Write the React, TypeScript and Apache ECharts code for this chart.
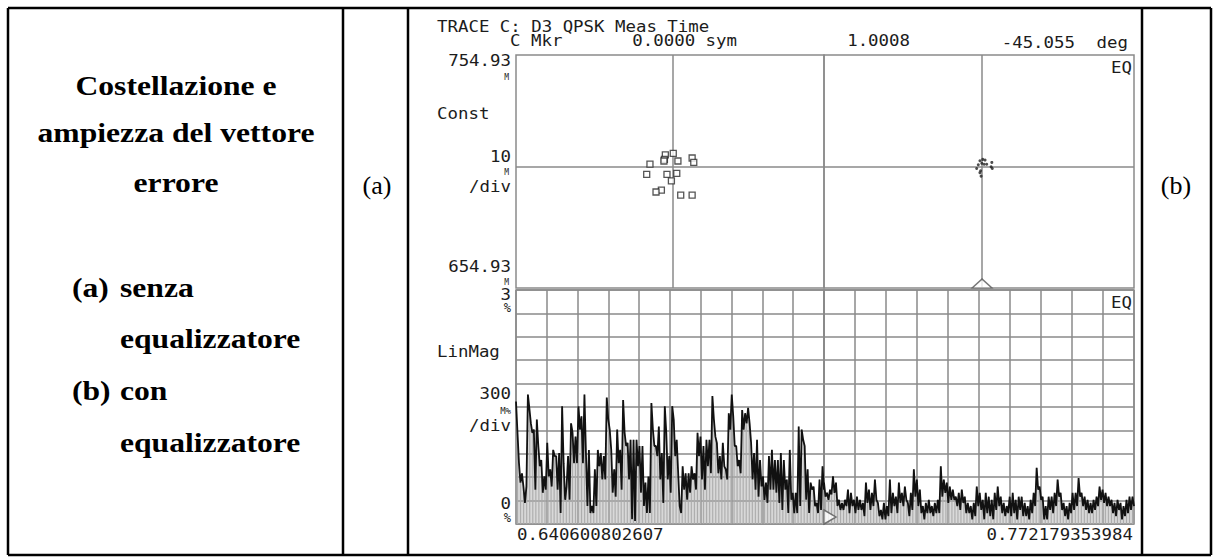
import React, { useEffect, useRef } from 'react';
import * as echarts from 'echarts';

// ---------- texts ----------
const HEADER_TITLE = 'TRACE C: D3 QPSK Meas Time';
const MKR_LABEL = 'C Mkr';
const MKR_X = '0.0000 sym';
const MKR_MAG = '1.0008';
const MKR_PHASE = '-45.055';
const MKR_PHASE_UNIT = 'deg';
const CONST_TOP = '754.93';
const CONST_BOTTOM = '654.93';
const CONST_SCALE = '10';
const EVM_TOP = '3';
const EVM_SCALE = '300';
const EVM_BOTTOM = '0';
const X_START = '0.640600802607';
const X_STOP = '0.772179353984';
const TITLE_LINES = ['Costellazione e', 'ampiezza del vettore', 'errore'];
const ITEM_TAGS = ['(a)', '(b)'];
const ITEM_LINES = [['senza', 'equalizzatore'], ['con', 'equalizzatore']];

// ---------- constellation (offset from ideal point, m units) ----------
const constellationA: [number, number][] = [
  [0.1, 5.9], [-3.3, 5.2], [-3.7, 3.3], [-3.9, 2.6], [-9.9, 1.3], [2.1, 2.6],
  [8.2, 3.9], [8.9, 2.0], [-11.3, -3.1], [-2.6, -3.1], [1.6, -2.7], [-0.7, -5.9],
  [-5.0, -9.9], [-7.3, -10.7], [3.3, -12.0], [8.2, -12.0],
];
const constellationB: [number, number][] = [
  [-0.9, 2.7], [0.3, 3.3], [1.3, 3.0], [-0.1, 1.6], [0.9, 1.2], [-1.6, 1.0],
  [4.2, 2.0], [4.4, -0.6], [3.9, 0.1], [-2.3, -0.6], [-0.6, -1.6], [-0.9, -2.4],
  [-0.4, -3.9], [2.0, 1.2],
];
const markerA: [number, number][] = [[0, -51.9]];

// ---------- error vector magnitude (%) ----------
const evmA = [
  1.57, 1.17, 0.78, 0.53, 0.65, 0.48, 0.27, 0.48, 1.66, 1.48, 1.29, 1.17, 1.21, 0.44, 1.34,
  1.00, 0.74, 0.82, 0.40, 0.61, 0.44, 1.04, 0.61, 0.70, 0.48, 0.95, 0.87, 0.87, 0.44, 0.91,
  0.14, 1.51, 0.78, 0.31, 0.48, 0.87, 0.31, 1.29, 1.17, 0.78, 1.12, 0.78, 1.51, 1.21, 1.38,
  0.78, 1.66, 0.91, 0.23, 0.95, 0.14, 0.23, 0.14, 0.70, 0.23, 0.95, 0.74, 0.91, 0.57, 0.87,
  0.57, 1.62, 1.34, 1.21, 0.95, 0.40, 0.70, 0.35, 1.21, 0.78, 0.95, 0.44, 1.59, 1.17, 1.00,
  1.04, 0.57, 1.08, 0.06, 1.08, 0.04, 1.08, 0.74, 1.00, 0.40, 1.00, 0.23, 0.53, 0.14, 0.61,
  0.14, 1.55, 1.21, 1.00, 1.00, 0.87, 1.25, 0.57, 0.91, 0.27, 1.51, 1.17, 0.57, 0.87, 0.40,
  1.51, 1.34, 0.87, 1.08, 0.65, 0.23, 0.14, 0.74, 0.44, 0.65, 0.31, 0.65, 0.40, 0.74, 0.57,
  0.65, 0.44, 1.17, 0.87, 1.12, 0.57, 1.00, 0.44, 1.08, 0.74, 1.08, 0.65, 1.64, 1.34, 1.12,
  1.04, 0.65, 0.87, 0.57, 1.04, 0.74, 0.70, 0.57, 1.42, 1.21, 1.66, 1.38, 1.00, 1.00, 0.74,
  0.82, 0.65, 1.46, 1.21, 1.42, 1.29, 1.49, 1.29, 1.04, 0.57, 0.91, 0.44, 1.08, 0.35, 0.82,
  0.48, 0.61, 0.31, 0.53, 0.27, 0.87, 0.44, 0.95, 0.44, 0.82, 0.40, 0.82, 0.27, 0.91, 0.18,
  0.82, 0.44, 0.57, 0.14, 0.95, 0.31, 0.40, 0.14, 0.40, 0.14, 1.25, 0.23, 1.21, 1.08, 1.00,
  0.31, 0.70, 0.14, 0.53, 0.44, 0.48, 0.23, 0.27, 0.14, 0.57, 0.18, 0.74, 0.44,
];
const evmB = [
  0.53, 0.35, 0.40, 0.31, 0.44, 0.38, 0.61, 0.40, 0.53, 0.23, 0.31, 0.18, 0.27, 0.18, 0.31,
  0.23, 0.44, 0.14, 0.40, 0.23, 0.31, 0.14, 0.35, 0.18, 0.31, 0.18, 0.27, 0.10, 0.53, 0.27,
  0.44, 0.18, 0.40, 0.23, 0.57, 0.31, 0.27, 0.10, 0.18, 0.06, 0.27, 0.06, 0.23, 0.10, 0.57,
  0.14, 0.40, 0.23, 0.35, 0.14, 0.53, 0.27, 0.40, 0.23, 0.48, 0.31, 0.27, 0.10, 0.40, 0.18,
  0.70, 0.35, 0.57, 0.23, 0.44, 0.14, 0.23, 0.06, 0.27, 0.14, 0.31, 0.14, 0.23, 0.10, 0.27,
  0.14, 0.31, 0.14, 0.74, 0.35, 0.57, 0.40, 0.53, 0.27, 0.48, 0.31, 0.44, 0.31, 0.35, 0.23,
  0.40, 0.18, 0.44, 0.27, 0.35, 0.14, 0.27, 0.14, 0.23, 0.06, 0.27, 0.10, 0.48, 0.23, 0.40,
  0.18, 0.31, 0.06, 0.40, 0.14, 0.35, 0.10, 0.31, 0.06, 0.40, 0.18, 0.48, 0.23, 0.35, 0.14,
  0.27, 0.10, 0.23, 0.14, 0.35, 0.10, 0.40, 0.14, 0.31, 0.06, 0.35, 0.18, 0.35, 0.10, 0.27,
  0.10, 0.23, 0.06, 0.31, 0.14, 0.40, 0.23, 0.72, 0.44, 0.48, 0.31, 0.35, 0.06, 0.23, 0.06,
  0.35, 0.18, 0.35, 0.14, 0.40, 0.23, 0.57, 0.35, 0.40, 0.18, 0.27, 0.10, 0.23, 0.06, 0.27,
  0.14, 0.40, 0.18, 0.40, 0.23, 0.59, 0.35, 0.40, 0.23, 0.35, 0.18, 0.31, 0.14, 0.27, 0.14,
  0.31, 0.18, 0.35, 0.23, 0.48, 0.31, 0.44, 0.27, 0.40, 0.23, 0.35, 0.23, 0.31, 0.14, 0.27,
  0.10, 0.31, 0.18, 0.27, 0.06, 0.23, 0.10, 0.31, 0.14, 0.35, 0.18, 0.35, 0.23,
];
const markerB: [number, number][] = [[0, 0]];

const GRID_COLOR = '#8a8a8a';
const MONO = '"DejaVu Sans Mono"';

function mono(text: string, x: number, y: number, size = 15, align = 'left', scaleX = 1.16) {
  return {
    type: 'text', x, y, scaleX, silent: true, z: 10,
    style: {
      text, font: `${size}px ${MONO}`, fill: '#1c1c1c',
      textAlign: align, align, textVerticalAlign: 'middle', verticalAlign: 'middle',
    },
  };
}
function serif(text: string, x: number, y: number, size: number, bold: boolean, align = 'left', scaleX = 1) {
  return {
    type: 'text', x, y, scaleX, silent: true, z: 10,
    style: {
      text, font: `${bold ? 'bold ' : ''}${size}px "Liberation Serif"`, fill: '#000',
      textAlign: align, align, textVerticalAlign: 'middle', verticalAlign: 'middle',
    },
  };
}
function rule(x1: number, y1: number, x2: number, y2: number) {
  return { type: 'line', silent: true, z: 10, shape: { x1, y1, x2, y2 }, style: { stroke: '#000', lineWidth: 2.5 } };
}

export default function App() {
  const ref = useRef<HTMLDivElement>(null);
  useEffect(() => {
    if (!ref.current) return;
    const chart = echarts.init(ref.current, null, { renderer: 'svg' });
    const gridBase = { show: true, borderColor: GRID_COLOR, borderWidth: 1.5, backgroundColor: 'transparent' };
    const divAxis = (gridIndex: number) => ({
      gridIndex, type: 'value', min: 0, max: 10, interval: 1,
      axisLine: { show: false }, axisTick: { show: false }, axisLabel: { show: false },
      splitLine: { show: true, lineStyle: { color: GRID_COLOR, width: 1.5 } },
    });
    const evmY = (gridIndex: number) => ({
      gridIndex, type: 'value', min: 0, max: 3, interval: 0.3,
      axisLine: { show: false }, axisTick: { show: false }, axisLabel: { show: false },
      splitLine: { show: true, lineStyle: { color: GRID_COLOR, width: 1.5 } },
    });
    const cross = {
      silent: true, symbol: ['none', 'none'], label: { show: false },
      lineStyle: { color: GRID_COLOR, width: 1.5, type: 'solid' },
      data: [{ xAxis: 0 }, { yAxis: 0 }],
    };
    const elements: any[] = [
      // table rules
      rule(8, 8, 1211, 8), rule(8, 555, 1211, 555),
      rule(8, 8, 8, 555), rule(343, 8, 343, 555), rule(408, 8, 408, 555),
      rule(1142, 8, 1142, 555), rule(1211, 8, 1211, 555),
      // left column
      serif(TITLE_LINES[0], 176, 85, 28, true, 'center', 1.13),
      serif(TITLE_LINES[1], 176, 132, 28, true, 'center', 1.13),
      serif(TITLE_LINES[2], 176, 182, 28, true, 'center', 1.13),
      serif(ITEM_TAGS[0], 72, 287, 28, true, 'left', 1.13),
      serif(ITEM_LINES[0][0], 120, 287, 28, true, 'left', 1.13),
      serif(ITEM_LINES[0][1], 120, 338, 28, true, 'left', 1.13),
      serif(ITEM_TAGS[1], 72, 390, 28, true, 'left', 1.13),
      serif(ITEM_LINES[1][0], 120, 390, 28, true, 'left', 1.13),
      serif(ITEM_LINES[1][1], 120, 442, 28, true, 'left', 1.13),
      serif(ITEM_TAGS[0], 377, 185, 26, false, 'center', 1),
      serif(ITEM_TAGS[1], 1176, 185, 26, false, 'center', 1),
      // analyzer annotations
      mono(HEADER_TITLE, 437, 27),
      mono(MKR_LABEL, 510, 41),
      mono(MKR_X, 737, 41, 15, 'right'),
      mono(MKR_MAG, 910, 41, 15, 'right'),
      mono(MKR_PHASE, 1075, 43, 15, 'right'),
      mono(MKR_PHASE_UNIT, 1128, 43, 15, 'right'),
      mono(CONST_TOP, 511, 61, 15, 'right'),
      mono('M', 509, 77, 8, 'right', 1),
      mono('Const', 437, 114),
      mono(CONST_SCALE, 511, 157, 15, 'right'),
      mono('M', 509, 172, 8, 'right', 1),
      mono('/div', 511, 187, 15, 'right'),
      mono(CONST_BOTTOM, 511, 267, 15, 'right'),
      mono('M', 509, 282, 8, 'right', 1),
      mono(EVM_TOP, 511, 295, 15, 'right'),
      mono('%', 511, 308, 12, 'right', 1),
      mono('LinMag', 437, 352),
      mono(EVM_SCALE, 511, 394, 15, 'right'),
      mono('M%', 511, 411, 9, 'right', 1),
      mono('/div', 511, 426, 15, 'right'),
      mono(EVM_BOTTOM, 511, 504, 15, 'right'),
      mono('%', 511, 518, 12, 'right', 1),
      mono(X_START, 517, 535),
      mono(X_STOP, 1133, 535, 15, 'right'),
      mono('EQ', 1132, 68, 15, 'right'),
      mono('EQ', 1132, 303, 15, 'right'),
    ];
    chart.setOption({
      animation: false,
      backgroundColor: '#fff',
      grid: [
        { ...gridBase, left: 516, top: 55, width: 308, height: 233 },
        { ...gridBase, left: 824, top: 55, width: 310, height: 233 },
        { ...gridBase, left: 516, top: 290, width: 308, height: 234 },
        { ...gridBase, left: 824, top: 290, width: 310, height: 234 },
      ],
      xAxis: [
        { gridIndex: 0, type: 'value', min: -67.4, max: 64.8, show: false },
        { gridIndex: 1, type: 'value', min: -67.8, max: 65.2, show: false },
        { gridIndex: 2, type: 'category', data: evmA.map((_, i) => i), boundaryGap: false, show: false },
        { gridIndex: 3, type: 'category', data: evmB.map((_, i) => i), boundaryGap: false, show: false },
        divAxis(2),
        divAxis(3),
      ],
      yAxis: [
        { gridIndex: 0, type: 'value', min: -51.9, max: 48.1, show: false },
        { gridIndex: 1, type: 'value', min: -51.9, max: 48.1, show: false },
        evmY(2),
        evmY(3),
      ],
      series: [
        {
          type: 'scatter', xAxisIndex: 0, yAxisIndex: 0, data: constellationA,
          symbol: 'rect', symbolSize: 6,
          itemStyle: { color: '#fff', borderColor: '#2a2a2a', borderWidth: 1.3 },
          markLine: cross, z: 5,
        },
        {
          type: 'scatter', xAxisIndex: 1, yAxisIndex: 1, data: constellationB,
          symbol: 'circle', symbolSize: 3, itemStyle: { color: '#222' },
          markLine: cross, z: 5,
        },
        {
          type: 'scatter', xAxisIndex: 1, yAxisIndex: 1, data: markerA,
          symbol: 'triangle', symbolSize: [20, 9], symbolOffset: [0, -4.5],
          itemStyle: { color: '#fff', borderColor: '#555', borderWidth: 1.3 }, z: 6,
        },
        {
          type: 'bar', xAxisIndex: 2, yAxisIndex: 2, data: evmA, barWidth: 1,
          itemStyle: { color: '#ababab' }, z: 3,
        },
        {
          type: 'line', xAxisIndex: 2, yAxisIndex: 2, data: evmA, showSymbol: false,
          lineStyle: { color: '#111', width: 1.8 }, z: 4,
        },
        {
          type: 'bar', xAxisIndex: 3, yAxisIndex: 3, data: evmB, barWidth: 1,
          itemStyle: { color: '#ababab' }, z: 3,
        },
        {
          type: 'line', xAxisIndex: 3, yAxisIndex: 3, data: evmB, showSymbol: false,
          lineStyle: { color: '#111', width: 1.8 }, z: 4,
        },
        {
          type: 'scatter', xAxisIndex: 3, yAxisIndex: 3, data: markerB,
          symbol: 'triangle', symbolRotate: -90, symbolSize: [14, 12], symbolOffset: [6, -7],
          itemStyle: { color: '#fff', borderColor: '#555', borderWidth: 1.3 }, z: 6,
        },
      ],
      graphic: { elements },
    });
    return () => chart.dispose();
  }, []);
  return <div ref={ref} style={{ position: 'fixed', left: 0, top: 0, width: 1219, height: 557 }} />;
}
